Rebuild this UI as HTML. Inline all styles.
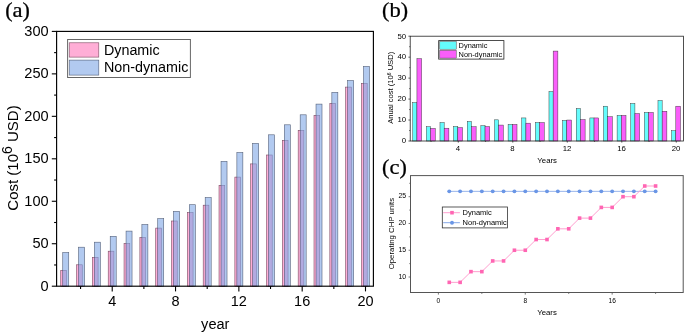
<!DOCTYPE html>
<html><head><meta charset="utf-8"><style>
html,body{margin:0;padding:0;background:#fff;}
body{width:685px;height:334px;overflow:hidden;}
svg{display:block;will-change:transform;filter:blur(0.25px);}
</style></head><body>
<svg width="685" height="334" viewBox="0 0 685 334" font-family='"Liberation Sans", sans-serif' fill="#000">
<rect width="685" height="334" fill="#fff"/>
<rect x="60.73" y="270.30" width="5.7" height="15.90" fill="#ffaed6" stroke="#7a4a60" stroke-width="0.6"/>
<rect x="76.56" y="264.80" width="5.7" height="21.40" fill="#ffaed6" stroke="#7a4a60" stroke-width="0.6"/>
<rect x="92.39" y="257.30" width="5.7" height="28.90" fill="#ffaed6" stroke="#7a4a60" stroke-width="0.6"/>
<rect x="108.22" y="251.20" width="5.7" height="35.00" fill="#ffaed6" stroke="#7a4a60" stroke-width="0.6"/>
<rect x="124.05" y="243.50" width="5.7" height="42.70" fill="#ffaed6" stroke="#7a4a60" stroke-width="0.6"/>
<rect x="139.88" y="237.50" width="5.7" height="48.70" fill="#ffaed6" stroke="#7a4a60" stroke-width="0.6"/>
<rect x="155.71" y="228.10" width="5.7" height="58.10" fill="#ffaed6" stroke="#7a4a60" stroke-width="0.6"/>
<rect x="171.54" y="221.00" width="5.7" height="65.20" fill="#ffaed6" stroke="#7a4a60" stroke-width="0.6"/>
<rect x="187.37" y="212.60" width="5.7" height="73.60" fill="#ffaed6" stroke="#7a4a60" stroke-width="0.6"/>
<rect x="203.20" y="205.20" width="5.7" height="81.00" fill="#ffaed6" stroke="#7a4a60" stroke-width="0.6"/>
<rect x="219.03" y="185.35" width="5.7" height="100.85" fill="#ffaed6" stroke="#7a4a60" stroke-width="0.6"/>
<rect x="234.86" y="177.10" width="5.7" height="109.10" fill="#ffaed6" stroke="#7a4a60" stroke-width="0.6"/>
<rect x="250.69" y="163.90" width="5.7" height="122.30" fill="#ffaed6" stroke="#7a4a60" stroke-width="0.6"/>
<rect x="266.52" y="155.00" width="5.7" height="131.20" fill="#ffaed6" stroke="#7a4a60" stroke-width="0.6"/>
<rect x="282.35" y="140.40" width="5.7" height="145.80" fill="#ffaed6" stroke="#7a4a60" stroke-width="0.6"/>
<rect x="298.18" y="130.40" width="5.7" height="155.80" fill="#ffaed6" stroke="#7a4a60" stroke-width="0.6"/>
<rect x="314.01" y="115.30" width="5.7" height="170.90" fill="#ffaed6" stroke="#7a4a60" stroke-width="0.6"/>
<rect x="329.84" y="103.40" width="5.7" height="182.80" fill="#ffaed6" stroke="#7a4a60" stroke-width="0.6"/>
<rect x="345.67" y="87.10" width="5.7" height="199.10" fill="#ffaed6" stroke="#7a4a60" stroke-width="0.6"/>
<rect x="361.50" y="83.45" width="5.7" height="202.75" fill="#ffaed6" stroke="#7a4a60" stroke-width="0.6"/>
<rect x="62.73" y="252.50" width="6" height="33.70" fill="#7fa6e6" fill-opacity="0.6" stroke="#33405a" stroke-opacity="0.8" stroke-width="0.6"/>
<rect x="78.56" y="247.20" width="6" height="39.00" fill="#7fa6e6" fill-opacity="0.6" stroke="#33405a" stroke-opacity="0.8" stroke-width="0.6"/>
<rect x="94.39" y="242.20" width="6" height="44.00" fill="#7fa6e6" fill-opacity="0.6" stroke="#33405a" stroke-opacity="0.8" stroke-width="0.6"/>
<rect x="110.22" y="236.30" width="6" height="49.90" fill="#7fa6e6" fill-opacity="0.6" stroke="#33405a" stroke-opacity="0.8" stroke-width="0.6"/>
<rect x="126.05" y="231.10" width="6" height="55.10" fill="#7fa6e6" fill-opacity="0.6" stroke="#33405a" stroke-opacity="0.8" stroke-width="0.6"/>
<rect x="141.88" y="224.50" width="6" height="61.70" fill="#7fa6e6" fill-opacity="0.6" stroke="#33405a" stroke-opacity="0.8" stroke-width="0.6"/>
<rect x="157.71" y="218.60" width="6" height="67.60" fill="#7fa6e6" fill-opacity="0.6" stroke="#33405a" stroke-opacity="0.8" stroke-width="0.6"/>
<rect x="173.54" y="211.40" width="6" height="74.80" fill="#7fa6e6" fill-opacity="0.6" stroke="#33405a" stroke-opacity="0.8" stroke-width="0.6"/>
<rect x="189.37" y="204.70" width="6" height="81.50" fill="#7fa6e6" fill-opacity="0.6" stroke="#33405a" stroke-opacity="0.8" stroke-width="0.6"/>
<rect x="205.20" y="197.50" width="6" height="88.70" fill="#7fa6e6" fill-opacity="0.6" stroke="#33405a" stroke-opacity="0.8" stroke-width="0.6"/>
<rect x="221.03" y="161.40" width="6" height="124.80" fill="#7fa6e6" fill-opacity="0.6" stroke="#33405a" stroke-opacity="0.8" stroke-width="0.6"/>
<rect x="236.86" y="152.50" width="6" height="133.70" fill="#7fa6e6" fill-opacity="0.6" stroke="#33405a" stroke-opacity="0.8" stroke-width="0.6"/>
<rect x="252.69" y="143.40" width="6" height="142.80" fill="#7fa6e6" fill-opacity="0.6" stroke="#33405a" stroke-opacity="0.8" stroke-width="0.6"/>
<rect x="268.52" y="134.80" width="6" height="151.40" fill="#7fa6e6" fill-opacity="0.6" stroke="#33405a" stroke-opacity="0.8" stroke-width="0.6"/>
<rect x="284.35" y="124.80" width="6" height="161.40" fill="#7fa6e6" fill-opacity="0.6" stroke="#33405a" stroke-opacity="0.8" stroke-width="0.6"/>
<rect x="300.18" y="114.80" width="6" height="171.40" fill="#7fa6e6" fill-opacity="0.6" stroke="#33405a" stroke-opacity="0.8" stroke-width="0.6"/>
<rect x="316.01" y="104.10" width="6" height="182.10" fill="#7fa6e6" fill-opacity="0.6" stroke="#33405a" stroke-opacity="0.8" stroke-width="0.6"/>
<rect x="331.84" y="92.40" width="6" height="193.80" fill="#7fa6e6" fill-opacity="0.6" stroke="#33405a" stroke-opacity="0.8" stroke-width="0.6"/>
<rect x="347.67" y="80.50" width="6" height="205.70" fill="#7fa6e6" fill-opacity="0.6" stroke="#33405a" stroke-opacity="0.8" stroke-width="0.6"/>
<rect x="363.50" y="66.40" width="6" height="219.80" fill="#7fa6e6" fill-opacity="0.6" stroke="#33405a" stroke-opacity="0.8" stroke-width="0.6"/>
<rect x="56.6" y="31.4" width="316.80" height="254.80" fill="none" stroke="#000" stroke-width="1.15"/>
<line x1="51.8" y1="286.20" x2="56.6" y2="286.20" stroke="#000" stroke-width="1.1"/>
<text transform="translate(48.70,290.60) scale(1,1.06)" text-anchor="end" font-size="14.6">0</text>
<line x1="54.1" y1="264.97" x2="56.6" y2="264.97" stroke="#000" stroke-width="1.1"/>
<line x1="51.8" y1="243.73" x2="56.6" y2="243.73" stroke="#000" stroke-width="1.1"/>
<text transform="translate(48.70,248.13) scale(1,1.06)" text-anchor="end" font-size="14.6">50</text>
<line x1="54.1" y1="222.50" x2="56.6" y2="222.50" stroke="#000" stroke-width="1.1"/>
<line x1="51.8" y1="201.27" x2="56.6" y2="201.27" stroke="#000" stroke-width="1.1"/>
<text transform="translate(48.70,205.67) scale(1,1.06)" text-anchor="end" font-size="14.6">100</text>
<line x1="54.1" y1="180.03" x2="56.6" y2="180.03" stroke="#000" stroke-width="1.1"/>
<line x1="51.8" y1="158.80" x2="56.6" y2="158.80" stroke="#000" stroke-width="1.1"/>
<text transform="translate(48.70,163.20) scale(1,1.06)" text-anchor="end" font-size="14.6">150</text>
<line x1="54.1" y1="137.57" x2="56.6" y2="137.57" stroke="#000" stroke-width="1.1"/>
<line x1="51.8" y1="116.33" x2="56.6" y2="116.33" stroke="#000" stroke-width="1.1"/>
<text transform="translate(48.70,120.73) scale(1,1.06)" text-anchor="end" font-size="14.6">200</text>
<line x1="54.1" y1="95.10" x2="56.6" y2="95.10" stroke="#000" stroke-width="1.1"/>
<line x1="51.8" y1="73.87" x2="56.6" y2="73.87" stroke="#000" stroke-width="1.1"/>
<text transform="translate(48.70,78.27) scale(1,1.06)" text-anchor="end" font-size="14.6">250</text>
<line x1="54.1" y1="52.63" x2="56.6" y2="52.63" stroke="#000" stroke-width="1.1"/>
<line x1="51.8" y1="31.40" x2="56.6" y2="31.40" stroke="#000" stroke-width="1.1"/>
<text transform="translate(48.70,35.80) scale(1,1.06)" text-anchor="end" font-size="14.6">300</text>
<line x1="80.56" y1="286.2" x2="80.56" y2="289" stroke="#000" stroke-width="1.1"/>
<line x1="112.22" y1="286.2" x2="112.22" y2="291.4" stroke="#000" stroke-width="1.1"/>
<text transform="translate(112.22,305.90) scale(1,1.07)" text-anchor="middle" font-size="14.5">4</text>
<line x1="143.88" y1="286.2" x2="143.88" y2="289" stroke="#000" stroke-width="1.1"/>
<line x1="175.54" y1="286.2" x2="175.54" y2="291.4" stroke="#000" stroke-width="1.1"/>
<text transform="translate(175.54,305.90) scale(1,1.07)" text-anchor="middle" font-size="14.5">8</text>
<line x1="207.20" y1="286.2" x2="207.20" y2="289" stroke="#000" stroke-width="1.1"/>
<line x1="238.86" y1="286.2" x2="238.86" y2="291.4" stroke="#000" stroke-width="1.1"/>
<text transform="translate(238.86,305.90) scale(1,1.07)" text-anchor="middle" font-size="14.5">12</text>
<line x1="270.52" y1="286.2" x2="270.52" y2="289" stroke="#000" stroke-width="1.1"/>
<line x1="302.18" y1="286.2" x2="302.18" y2="291.4" stroke="#000" stroke-width="1.1"/>
<text transform="translate(302.18,305.90) scale(1,1.07)" text-anchor="middle" font-size="14.5">16</text>
<line x1="333.84" y1="286.2" x2="333.84" y2="289" stroke="#000" stroke-width="1.1"/>
<line x1="365.50" y1="286.2" x2="365.50" y2="291.4" stroke="#000" stroke-width="1.1"/>
<text transform="translate(365.50,305.90) scale(1,1.07)" text-anchor="middle" font-size="14.5">20</text>
<text transform="translate(201.10,328.60) scale(1,1.06)" font-size="14.6">year</text>
<text transform="translate(18.3,158.0) rotate(-90)" text-anchor="middle" font-size="15">Cost (10<tspan dy="-6.6" font-size="14">6</tspan><tspan dy="6.6"> USD)</tspan></text>
<rect x="67.6" y="39.5" width="122.8" height="38" fill="#fff" stroke="#666" stroke-width="1"/>
<rect x="69.2" y="42.8" width="29.6" height="14.3" fill="#ffaed6" stroke="#7a4a60" stroke-width="0.6"/>
<rect x="69.2" y="60.1" width="29.6" height="15" fill="#7fa6e6" fill-opacity="0.6" stroke="#33405a" stroke-opacity="0.8" stroke-width="0.6"/>
<text transform="translate(103.90,54.75) scale(1,1.06)" font-size="14.35">Dynamic</text>
<text transform="translate(103.90,72.00) scale(1,1.06)" font-size="14.35">Non-dynamic</text>
<text x="5.20" y="17.30" font-family='"Liberation Serif", serif' font-size="22.0" stroke="#000" stroke-width="0.3">(</text>
<text transform="translate(12.53,16.90) scale(1.1,1)" font-family='"Liberation Serif", serif' font-size="20.5" stroke="#000" stroke-width="0.25">a</text>
<text x="22.54" y="17.30" font-family='"Liberation Serif", serif' font-size="22.0" stroke="#000" stroke-width="0.3">)</text>
<rect x="412.73" y="102.64" width="4.2" height="38.36" fill="#64fcfc" stroke="#333" stroke-width="0.45"/>
<rect x="416.93" y="58.63" width="4.7" height="82.37" fill="#fa5efa" stroke="#333" stroke-width="0.45"/>
<rect x="426.35" y="126.75" width="4.2" height="14.25" fill="#64fcfc" stroke="#333" stroke-width="0.45"/>
<rect x="430.55" y="128.42" width="4.7" height="12.58" fill="#fa5efa" stroke="#333" stroke-width="0.45"/>
<rect x="439.98" y="122.56" width="4.2" height="18.44" fill="#64fcfc" stroke="#333" stroke-width="0.45"/>
<rect x="444.18" y="128.21" width="4.7" height="12.79" fill="#fa5efa" stroke="#333" stroke-width="0.45"/>
<rect x="453.60" y="126.54" width="4.2" height="14.46" fill="#64fcfc" stroke="#333" stroke-width="0.45"/>
<rect x="457.80" y="127.59" width="4.7" height="13.41" fill="#fa5efa" stroke="#333" stroke-width="0.45"/>
<rect x="467.23" y="121.51" width="4.2" height="19.49" fill="#64fcfc" stroke="#333" stroke-width="0.45"/>
<rect x="471.43" y="126.75" width="4.7" height="14.25" fill="#fa5efa" stroke="#333" stroke-width="0.45"/>
<rect x="480.85" y="125.70" width="4.2" height="15.30" fill="#64fcfc" stroke="#333" stroke-width="0.45"/>
<rect x="485.05" y="126.54" width="4.7" height="14.46" fill="#fa5efa" stroke="#333" stroke-width="0.45"/>
<rect x="494.48" y="119.83" width="4.2" height="21.17" fill="#64fcfc" stroke="#333" stroke-width="0.45"/>
<rect x="498.68" y="125.07" width="4.7" height="15.93" fill="#fa5efa" stroke="#333" stroke-width="0.45"/>
<rect x="508.10" y="124.44" width="4.2" height="16.56" fill="#64fcfc" stroke="#333" stroke-width="0.45"/>
<rect x="512.30" y="124.44" width="4.7" height="16.56" fill="#fa5efa" stroke="#333" stroke-width="0.45"/>
<rect x="521.72" y="117.94" width="4.2" height="23.06" fill="#64fcfc" stroke="#333" stroke-width="0.45"/>
<rect x="525.92" y="123.18" width="4.7" height="17.82" fill="#fa5efa" stroke="#333" stroke-width="0.45"/>
<rect x="535.35" y="122.56" width="4.2" height="18.44" fill="#64fcfc" stroke="#333" stroke-width="0.45"/>
<rect x="539.55" y="122.56" width="4.7" height="18.44" fill="#fa5efa" stroke="#333" stroke-width="0.45"/>
<rect x="548.97" y="91.53" width="4.2" height="49.47" fill="#64fcfc" stroke="#333" stroke-width="0.45"/>
<rect x="553.17" y="51.08" width="4.7" height="89.92" fill="#fa5efa" stroke="#333" stroke-width="0.45"/>
<rect x="562.60" y="120.46" width="4.2" height="20.54" fill="#64fcfc" stroke="#333" stroke-width="0.45"/>
<rect x="566.80" y="120.04" width="4.7" height="20.96" fill="#fa5efa" stroke="#333" stroke-width="0.45"/>
<rect x="576.22" y="108.51" width="4.2" height="32.49" fill="#64fcfc" stroke="#333" stroke-width="0.45"/>
<rect x="580.42" y="119.62" width="4.7" height="21.38" fill="#fa5efa" stroke="#333" stroke-width="0.45"/>
<rect x="589.85" y="117.94" width="4.2" height="23.06" fill="#64fcfc" stroke="#333" stroke-width="0.45"/>
<rect x="594.05" y="117.94" width="4.7" height="23.06" fill="#fa5efa" stroke="#333" stroke-width="0.45"/>
<rect x="603.47" y="106.21" width="4.2" height="34.79" fill="#64fcfc" stroke="#333" stroke-width="0.45"/>
<rect x="607.67" y="116.69" width="4.7" height="24.31" fill="#fa5efa" stroke="#333" stroke-width="0.45"/>
<rect x="617.10" y="115.43" width="4.2" height="25.57" fill="#64fcfc" stroke="#333" stroke-width="0.45"/>
<rect x="621.30" y="115.43" width="4.7" height="25.57" fill="#fa5efa" stroke="#333" stroke-width="0.45"/>
<rect x="630.72" y="103.48" width="4.2" height="37.52" fill="#64fcfc" stroke="#333" stroke-width="0.45"/>
<rect x="634.92" y="113.54" width="4.7" height="27.46" fill="#fa5efa" stroke="#333" stroke-width="0.45"/>
<rect x="644.35" y="112.49" width="4.2" height="28.51" fill="#64fcfc" stroke="#333" stroke-width="0.45"/>
<rect x="648.55" y="112.49" width="4.7" height="28.51" fill="#fa5efa" stroke="#333" stroke-width="0.45"/>
<rect x="657.97" y="100.55" width="4.2" height="40.45" fill="#64fcfc" stroke="#333" stroke-width="0.45"/>
<rect x="662.17" y="111.24" width="4.7" height="29.76" fill="#fa5efa" stroke="#333" stroke-width="0.45"/>
<rect x="671.60" y="130.73" width="4.2" height="10.27" fill="#64fcfc" stroke="#333" stroke-width="0.45"/>
<rect x="675.80" y="106.21" width="4.7" height="34.79" fill="#fa5efa" stroke="#333" stroke-width="0.45"/>
<rect x="410.2" y="36.2" width="273.20" height="104.80" fill="none" stroke="#222" stroke-width="0.8"/>
<line x1="408.4" y1="141.00" x2="410.2" y2="141.00" stroke="#222" stroke-width="0.7"/>
<text x="406.2" y="143.30" text-anchor="end" font-size="7.8">0</text>
<line x1="409.2" y1="130.52" x2="410.2" y2="130.52" stroke="#222" stroke-width="0.7"/>
<line x1="408.4" y1="120.04" x2="410.2" y2="120.04" stroke="#222" stroke-width="0.7"/>
<text x="406.2" y="122.34" text-anchor="end" font-size="7.8">10</text>
<line x1="409.2" y1="109.56" x2="410.2" y2="109.56" stroke="#222" stroke-width="0.7"/>
<line x1="408.4" y1="99.08" x2="410.2" y2="99.08" stroke="#222" stroke-width="0.7"/>
<text x="406.2" y="101.38" text-anchor="end" font-size="7.8">20</text>
<line x1="409.2" y1="88.60" x2="410.2" y2="88.60" stroke="#222" stroke-width="0.7"/>
<line x1="408.4" y1="78.12" x2="410.2" y2="78.12" stroke="#222" stroke-width="0.7"/>
<text x="406.2" y="80.42" text-anchor="end" font-size="7.8">30</text>
<line x1="409.2" y1="67.64" x2="410.2" y2="67.64" stroke="#222" stroke-width="0.7"/>
<line x1="408.4" y1="57.16" x2="410.2" y2="57.16" stroke="#222" stroke-width="0.7"/>
<text x="406.2" y="59.46" text-anchor="end" font-size="7.8">40</text>
<line x1="409.2" y1="46.68" x2="410.2" y2="46.68" stroke="#222" stroke-width="0.7"/>
<line x1="408.4" y1="36.20" x2="410.2" y2="36.20" stroke="#222" stroke-width="0.7"/>
<text x="406.2" y="38.50" text-anchor="end" font-size="7.8">50</text>
<line x1="431.05" y1="141.0" x2="431.05" y2="141.9" stroke="#222" stroke-width="0.7"/>
<line x1="458.30" y1="141.0" x2="458.30" y2="142.6" stroke="#222" stroke-width="0.7"/>
<text x="458.00" y="151.3" text-anchor="middle" font-size="7.8">4</text>
<line x1="485.55" y1="141.0" x2="485.55" y2="141.9" stroke="#222" stroke-width="0.7"/>
<line x1="512.80" y1="141.0" x2="512.80" y2="142.6" stroke="#222" stroke-width="0.7"/>
<text x="512.50" y="151.3" text-anchor="middle" font-size="7.8">8</text>
<line x1="540.05" y1="141.0" x2="540.05" y2="141.9" stroke="#222" stroke-width="0.7"/>
<line x1="567.30" y1="141.0" x2="567.30" y2="142.6" stroke="#222" stroke-width="0.7"/>
<text x="567.00" y="151.3" text-anchor="middle" font-size="7.8">12</text>
<line x1="594.55" y1="141.0" x2="594.55" y2="141.9" stroke="#222" stroke-width="0.7"/>
<line x1="621.80" y1="141.0" x2="621.80" y2="142.6" stroke="#222" stroke-width="0.7"/>
<text x="621.50" y="151.3" text-anchor="middle" font-size="7.8">16</text>
<line x1="649.05" y1="141.0" x2="649.05" y2="141.9" stroke="#222" stroke-width="0.7"/>
<line x1="676.30" y1="141.0" x2="676.30" y2="142.6" stroke="#222" stroke-width="0.7"/>
<text x="676.00" y="151.3" text-anchor="middle" font-size="7.8">20</text>
<text x="547.2" y="163.0" text-anchor="middle" font-size="7.8">Years</text>
<text transform="translate(393.3,87.8) rotate(-90)" text-anchor="middle" font-size="7.6">Anual cost (10<tspan dy="-2.6" font-size="5">6</tspan><tspan dy="2.6"> USD)</tspan></text>
<rect x="438.7" y="40.6" width="65.2" height="18.5" fill="#fff" stroke="#222" stroke-width="0.8"/>
<rect x="439.8" y="41.6" width="16.4" height="7.6" fill="#64fcfc" stroke="#333" stroke-width="0.45"/>
<rect x="439.8" y="50.4" width="16.4" height="7.7" fill="#fa5efa" stroke="#333" stroke-width="0.45"/>
<text x="458.6" y="48.0" font-size="7.4">Dynamic</text>
<text x="458.6" y="56.7" font-size="7.4">Non-dynamic</text>
<text x="382.10" y="17.40" font-family='"Liberation Serif", serif' font-size="22.0" stroke="#000" stroke-width="0.3">(</text>
<text transform="translate(389.43,17.00) scale(1.1,1)" font-family='"Liberation Serif", serif' font-size="20.5" stroke="#000" stroke-width="0.25">b</text>
<text x="400.70" y="17.40" font-family='"Liberation Serif", serif' font-size="22.0" stroke="#000" stroke-width="0.3">)</text>
<rect x="410.5" y="175.6" width="272.70" height="116.90" fill="none" stroke="#555" stroke-width="1"/>
<line x1="408.6" y1="277.00" x2="410.5" y2="277.00" stroke="#555" stroke-width="0.8"/>
<text x="406.2" y="278.60" text-anchor="end" font-size="6.9">10</text>
<line x1="409.3" y1="263.62" x2="410.5" y2="263.62" stroke="#555" stroke-width="0.8"/>
<line x1="408.6" y1="250.24" x2="410.5" y2="250.24" stroke="#555" stroke-width="0.8"/>
<text x="406.2" y="251.84" text-anchor="end" font-size="6.9">15</text>
<line x1="409.3" y1="236.85" x2="410.5" y2="236.85" stroke="#555" stroke-width="0.8"/>
<line x1="408.6" y1="223.47" x2="410.5" y2="223.47" stroke="#555" stroke-width="0.8"/>
<text x="406.2" y="225.07" text-anchor="end" font-size="6.9">20</text>
<line x1="409.3" y1="210.09" x2="410.5" y2="210.09" stroke="#555" stroke-width="0.8"/>
<line x1="408.6" y1="196.70" x2="410.5" y2="196.70" stroke="#555" stroke-width="0.8"/>
<text x="406.2" y="198.30" text-anchor="end" font-size="6.9">25</text>
<line x1="409.3" y1="183.32" x2="410.5" y2="183.32" stroke="#555" stroke-width="0.8"/>
<line x1="438.40" y1="292.5" x2="438.40" y2="294.6" stroke="#555" stroke-width="0.8"/>
<text x="438.40" y="302.6" text-anchor="middle" font-size="6.6">0</text>
<line x1="481.84" y1="292.5" x2="481.84" y2="293.9" stroke="#555" stroke-width="0.8"/>
<line x1="525.28" y1="292.5" x2="525.28" y2="294.6" stroke="#555" stroke-width="0.8"/>
<text x="525.28" y="302.6" text-anchor="middle" font-size="6.6">8</text>
<line x1="568.72" y1="292.5" x2="568.72" y2="293.9" stroke="#555" stroke-width="0.8"/>
<line x1="612.16" y1="292.5" x2="612.16" y2="294.6" stroke="#555" stroke-width="0.8"/>
<text x="612.16" y="302.6" text-anchor="middle" font-size="6.6">16</text>
<line x1="655.60" y1="292.5" x2="655.60" y2="293.9" stroke="#555" stroke-width="0.8"/>
<text x="547" y="315" text-anchor="middle" font-size="7.8">Years</text>
<text transform="translate(394.4,233.6) rotate(-90)" text-anchor="middle" font-size="7.8">Operating CHP units</text>
<polyline points="449.26,191.35 460.12,191.35 470.98,191.35 481.84,191.35 492.70,191.35 503.56,191.35 514.42,191.35 525.28,191.35 536.14,191.35 547.00,191.35 557.86,191.35 568.72,191.35 579.58,191.35 590.44,191.35 601.30,191.35 612.16,191.35 623.02,191.35 633.88,191.35 644.74,191.35 655.60,191.35" fill="none" stroke="#86a8e8" stroke-width="0.85"/>
<circle cx="449.26" cy="191.35" r="1.95" fill="#6a96e6"/>
<circle cx="460.12" cy="191.35" r="1.95" fill="#6a96e6"/>
<circle cx="470.98" cy="191.35" r="1.95" fill="#6a96e6"/>
<circle cx="481.84" cy="191.35" r="1.95" fill="#6a96e6"/>
<circle cx="492.70" cy="191.35" r="1.95" fill="#6a96e6"/>
<circle cx="503.56" cy="191.35" r="1.95" fill="#6a96e6"/>
<circle cx="514.42" cy="191.35" r="1.95" fill="#6a96e6"/>
<circle cx="525.28" cy="191.35" r="1.95" fill="#6a96e6"/>
<circle cx="536.14" cy="191.35" r="1.95" fill="#6a96e6"/>
<circle cx="547.00" cy="191.35" r="1.95" fill="#6a96e6"/>
<circle cx="557.86" cy="191.35" r="1.95" fill="#6a96e6"/>
<circle cx="568.72" cy="191.35" r="1.95" fill="#6a96e6"/>
<circle cx="579.58" cy="191.35" r="1.95" fill="#6a96e6"/>
<circle cx="590.44" cy="191.35" r="1.95" fill="#6a96e6"/>
<circle cx="601.30" cy="191.35" r="1.95" fill="#6a96e6"/>
<circle cx="612.16" cy="191.35" r="1.95" fill="#6a96e6"/>
<circle cx="623.02" cy="191.35" r="1.95" fill="#6a96e6"/>
<circle cx="633.88" cy="191.35" r="1.95" fill="#6a96e6"/>
<circle cx="644.74" cy="191.35" r="1.95" fill="#6a96e6"/>
<circle cx="655.60" cy="191.35" r="1.95" fill="#6a96e6"/>
<polyline points="449.26,282.35 460.12,282.35 470.98,271.65 481.84,271.65 492.70,260.94 503.56,260.94 514.42,250.24 525.28,250.24 536.14,239.53 547.00,239.53 557.86,228.82 568.72,228.82 579.58,218.12 590.44,218.12 601.30,207.41 612.16,207.41 623.02,196.70 633.88,196.70 644.74,186.00 655.60,186.00" fill="none" stroke="#ff9fcf" stroke-width="1"/>
<rect x="447.46" y="280.55" width="3.6" height="3.6" fill="#ff66b3"/>
<rect x="458.32" y="280.55" width="3.6" height="3.6" fill="#ff66b3"/>
<rect x="469.18" y="269.85" width="3.6" height="3.6" fill="#ff66b3"/>
<rect x="480.04" y="269.85" width="3.6" height="3.6" fill="#ff66b3"/>
<rect x="490.90" y="259.14" width="3.6" height="3.6" fill="#ff66b3"/>
<rect x="501.76" y="259.14" width="3.6" height="3.6" fill="#ff66b3"/>
<rect x="512.62" y="248.44" width="3.6" height="3.6" fill="#ff66b3"/>
<rect x="523.48" y="248.44" width="3.6" height="3.6" fill="#ff66b3"/>
<rect x="534.34" y="237.73" width="3.6" height="3.6" fill="#ff66b3"/>
<rect x="545.20" y="237.73" width="3.6" height="3.6" fill="#ff66b3"/>
<rect x="556.06" y="227.02" width="3.6" height="3.6" fill="#ff66b3"/>
<rect x="566.92" y="227.02" width="3.6" height="3.6" fill="#ff66b3"/>
<rect x="577.78" y="216.32" width="3.6" height="3.6" fill="#ff66b3"/>
<rect x="588.64" y="216.32" width="3.6" height="3.6" fill="#ff66b3"/>
<rect x="599.50" y="205.61" width="3.6" height="3.6" fill="#ff66b3"/>
<rect x="610.36" y="205.61" width="3.6" height="3.6" fill="#ff66b3"/>
<rect x="621.22" y="194.90" width="3.6" height="3.6" fill="#ff66b3"/>
<rect x="632.08" y="194.90" width="3.6" height="3.6" fill="#ff66b3"/>
<rect x="642.94" y="184.20" width="3.6" height="3.6" fill="#ff66b3"/>
<rect x="653.80" y="184.20" width="3.6" height="3.6" fill="#ff66b3"/>
<rect x="442.3" y="207" width="65.2" height="20.9" fill="#fff" stroke="#333" stroke-width="0.8"/>
<line x1="443.2" y1="212.7" x2="459.9" y2="212.7" stroke="#ff9fcf" stroke-width="1"/>
<rect x="450.2" y="210.9" width="3.6" height="3.6" fill="#ff66b3"/>
<line x1="443.2" y1="222.7" x2="459.9" y2="222.7" stroke="#86a8e8" stroke-width="1"/>
<circle cx="452" cy="222.7" r="1.95" fill="#6a96e6"/>
<text x="462.6" y="215.4" font-size="7.5">Dynamic</text>
<text x="462.6" y="225.4" font-size="7.5">Non-dynamic</text>
<text x="382.10" y="174.00" font-family='"Liberation Serif", serif' font-size="22.0" stroke="#000" stroke-width="0.3">(</text>
<text transform="translate(389.43,173.60) scale(1.1,1)" font-family='"Liberation Serif", serif' font-size="20.5" stroke="#000" stroke-width="0.25">c</text>
<text x="399.44" y="174.00" font-family='"Liberation Serif", serif' font-size="22.0" stroke="#000" stroke-width="0.3">)</text>
</svg>
</body></html>
